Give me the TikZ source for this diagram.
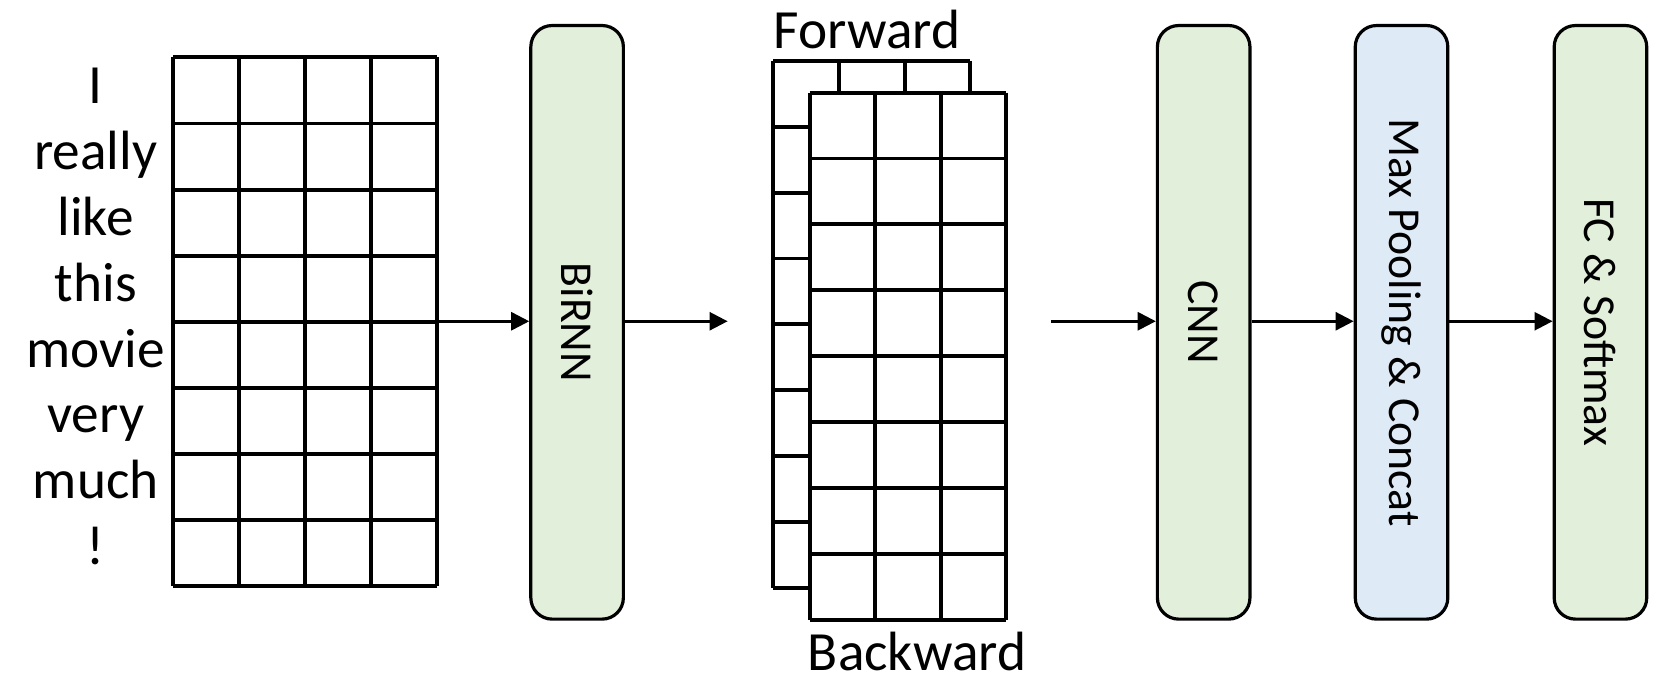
\documentclass[tikz,border=0pt]{standalone}
\usepackage{fontspec}
\setmainfont{Carlito}
\usetikzlibrary{arrows.meta}
\definecolor{boxgreen}{HTML}{E2EFDA}
\definecolor{boxblue}{HTML}{DEEBF7}
\begin{document}
\begin{tikzpicture}[x=0.5pt,y=-0.5pt,
  gridline/.style={line width=1.85pt, black},
  layer/.style={draw, line width=1.5pt, rounded corners=10pt, minimum width=43.5pt, minimum height=279pt, inner sep=0pt},
  flow/.style={line width=1.2pt, -{Triangle[length=8.5pt,width=8.5pt]}},
  word/.style={font=\fontsize{26}{30}\selectfont, inner sep=0pt},
  lab/.style={font=\fontsize{21.5}{26}\selectfont, rotate=-90, inner sep=0pt}]
\useasboundingbox (0,0) rectangle (1568,647);

% ---- word embedding grid ----
\foreach \i in {0,...,4} \draw[gridline] (163+62*\i,54) -- (163+62*\i,551);
\foreach \j in {0,...,8} \draw[gridline] (163,54+62.1*\j) -- (411,54+62.1*\j);
\coordinate (embout) at (400,302);

% words
\foreach \w [count=\k from 0] in {I,really,like,this,movie,very,much,!}
  \node[word, anchor=center] (w\k) at (90,85+62*\k) {\strut\w};

% ---- BiRNN ----
\node[layer, fill=boxgreen] (birnn) at (542.5,303) {};
\node[lab] (birnnlab) at (birnn.center) {BiRNN};

% ---- BiRNN output grids ----
% offset (forward) layer
\foreach \i in {0,...,3} \draw[gridline] (727+61.67*\i,57) -- (727+61.67*\i,553);
\foreach \j in {0,...,8} \draw[gridline] (727,57+62*\j) -- (912,57+62*\j);
% front layer
\fill[white] (761,87) rectangle (946,583);
\foreach \i in {0,...,3} \draw[gridline] (761+61.67*\i,87) -- (761+61.67*\i,583);
\foreach \j in {0,...,8} \draw[gridline] (761,87+62*\j) -- (946,87+62*\j);
\coordinate (rnnin) at (684,302);
\coordinate (rnnout) at (988,302);
\node[word] (fwd) at (815,28) {Forward};
\node[word] (bwd) at (862,612) {Backward};

% ---- CNN, pooling, FC ----
\node[layer, fill=boxgreen] (cnn) at (1131.5,303) {};
\node[lab] (cnnlab) at (cnn.center) {CNN};
\node[layer, fill=boxblue] (pool) at (1317.5,303) {};
\node[lab] (poollab) at (pool.center) {Max Pooling \& Concat};
\node[layer, fill=boxgreen] (fc) at (1504.5,303) {};
\node[lab] (fclab) at (fc.center) {FC \& Softmax};

% ---- connectors ----
\draw[flow] (embout) -- (birnn.west |- embout);
\draw[flow] (birnn.east |- rnnin) -- (rnnin);
\draw[flow] (rnnout) -- (cnn.west |- rnnout);
\draw[flow] (cnn.east |- rnnout) -- (pool.west |- rnnout);
\draw[flow] (pool.east |- rnnout) -- (fc.west |- rnnout);
\end{tikzpicture}
\end{document}
